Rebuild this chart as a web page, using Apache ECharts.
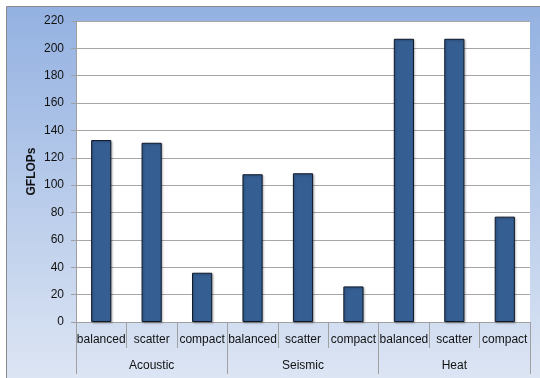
<!DOCTYPE html>
<html>
<head>
<meta charset="utf-8">
<script src="https://cdn.jsdelivr.net/npm/echarts@6/dist/echarts.min.js"></script>
<style>
html,body{margin:0;padding:0;background:#fff;}
#c{width:540px;height:378px;}
</style>
</head>
<body>
<div id="c"></div>
<script>
var subCategories = ['balanced','scatter','compact','balanced','scatter','compact','balanced','scatter','compact'];
var groups = ['Acoustic','Seismic','Heat'];
var gflops = [133, 131, 36, 108, 108.7, 26, 207, 207, 77];
var yTicks = {min: 0, max: 220, interval: 20};
var yName = 'GFLOPs';

var font = 'Liberation Sans, Arial, sans-serif';
var chart = echarts.init(document.getElementById('c'), null, {renderer: 'canvas'});
chart.setOption({
  animation: false,
  backgroundColor: '#ffffff',
  graphic: [{
    type: 'rect', z: -10, silent: true,
    shape: {x: 6.5, y: 6.5, width: 560, height: 400},
    style: {
      fill: new echarts.graphic.LinearGradient(0, 0, 0, 1, [
        {offset: 0, color: '#93b1e1'},
        {offset: 1, color: '#e2e9f5'}
      ]),
      stroke: '#8a8a8a', lineWidth: 1
    }
  }],
  grid: {left: 76, top: 21, right: 10, bottom: 56, show: true, backgroundColor: '#ffffff', borderWidth: 0, containLabel: false},
  xAxis: [{
    type: 'category',
    data: subCategories,
    position: 'bottom',
    axisLine: {show: true, lineStyle: {color: '#a0a0a0', width: 1}},
    axisTick: {show: true, alignWithLabel: false, length: 26, lineStyle: {color: '#a0a0a0'}},
    axisLabel: {margin: 12, color: '#111111', fontSize: 12, fontFamily: font, interval: 0},
    splitLine: {show: false}
  }, {
    type: 'category',
    data: groups,
    position: 'bottom',
    axisLine: {show: false},
    axisTick: {show: true, alignWithLabel: false, length: 52, lineStyle: {color: '#a0a0a0'}},
    axisLabel: {margin: 38, color: '#111111', fontSize: 12, fontFamily: font, interval: 0},
    splitLine: {show: false}
  }],
  yAxis: {
    type: 'value',
    min: yTicks.min, max: yTicks.max, interval: yTicks.interval,
    name: yName,
    nameLocation: 'middle',
    nameGap: 38,
    nameMoveOverlap: false,
    nameRotate: 90,
    nameTextStyle: {fontWeight: 'bold', fontSize: 12, color: '#111111', fontFamily: font},
    axisLine: {show: true, lineStyle: {color: '#a0a0a0'}},
    axisTick: {show: true, length: 5, lineStyle: {color: '#a0a0a0'}},
    axisLabel: {margin: 12, color: '#111111', fontSize: 12, fontFamily: font},
    splitLine: {show: true, lineStyle: {color: '#a6a6a6', width: 1}}
  },
  series: [{
    type: 'bar',
    xAxisIndex: 0,
    data: gflops,
    barWidth: '40%',
    itemStyle: {
      color: '#355e92',
      borderColor: '#0f1a2a',
      borderWidth: 1,
      shadowColor: 'rgba(0,0,0,0.25)',
      shadowBlur: 2,
      shadowOffsetX: 1,
      shadowOffsetY: 1
    }
  }]
});
</script>
</body>
</html>
